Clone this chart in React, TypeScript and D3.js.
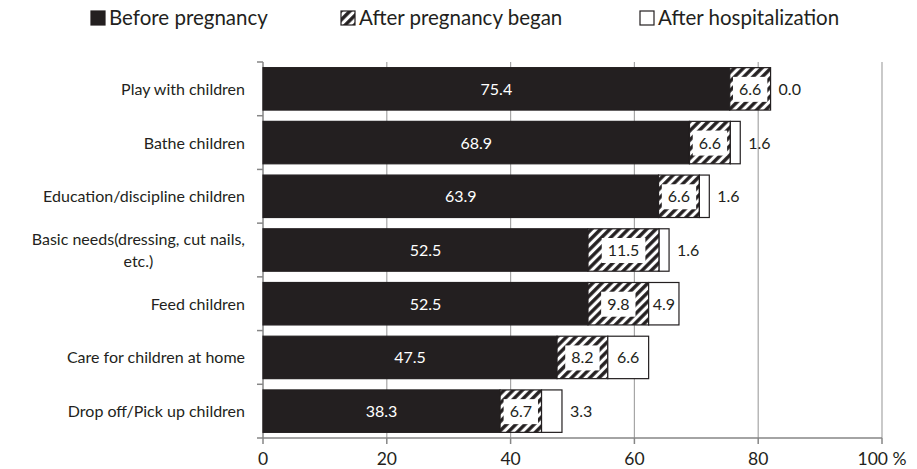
import React, { useEffect, useRef } from "react";
import * as d3 from "d3";

const categories = [
  "Play with children",
  "Bathe children",
  "Education/discipline children",
  "Basic needs(dressing, cut nails,|etc.)",
  "Feed children",
  "Care for children at home",
  "Drop off/Pick up children",
];
const beforePregnancy = [75.4, 68.9, 63.9, 52.5, 52.5, 47.5, 38.3];
const afterPregnancyBegan = [6.6, 6.6, 6.6, 11.5, 9.8, 8.2, 6.7];
const afterHospitalization = [0.0, 1.6, 1.6, 1.6, 4.9, 6.6, 3.3];
const seriesNames = ["Before pregnancy", "After pregnancy began", "After hospitalization"];
const xTicks = [0, 20, 40, 60, 80, 100];

const W = 917;
const H = 469;
const FONT = "Lato, 'Open Sans', sans-serif";

export default function App() {
  const ref = useRef<SVGSVGElement | null>(null);

  useEffect(() => {
    document.body.style.margin = "0";
    const svg = d3.select(ref.current);
    svg.selectAll("*").remove();

    const left = 263;
    const right = 882;
    const top = 62;
    const bottom = 438;

    const x = d3.scaleLinear().domain([0, 100]).range([left, right]);
    const y = d3
      .scaleBand<number>()
      .domain(categories.map((_, i) => i))
      .range([top, bottom])
      .paddingInner(0.21)
      .paddingOuter(0.105);

    const defs = svg.append("defs");
    const pat = defs
      .append("pattern")
      .attr("id", "hatch")
      .attr("patternUnits", "userSpaceOnUse")
      .attr("width", 6.5)
      .attr("height", 6.5)
      .attr("patternTransform", "rotate(45)");
    pat.append("rect").attr("width", 6.5).attr("height", 6.5).attr("fill", "#fff");
    pat
      .append("line")
      .attr("x1", 1.8)
      .attr("x2", 1.8)
      .attr("y1", 0)
      .attr("y2", 6.5)
      .attr("stroke", "#231f20")
      .attr("stroke-width", 3.4);

    const fills = ["#231f20", "url(#hatch)", "#ffffff"];

    // gridlines
    svg
      .append("g")
      .selectAll("line")
      .data(xTicks.slice(1))
      .join("line")
      .attr("x1", (d) => x(d))
      .attr("x2", (d) => x(d))
      .attr("y1", top)
      .attr("y2", bottom)
      .attr("stroke", "#a6a6a6")
      .attr("stroke-width", 1.2);

    // axes
    const axisColor = "#868686";
    svg
      .append("line")
      .attr("x1", left)
      .attr("x2", right)
      .attr("y1", bottom)
      .attr("y2", bottom)
      .attr("stroke", axisColor)
      .attr("stroke-width", 1.5);
    svg
      .append("line")
      .attr("x1", left)
      .attr("x2", left)
      .attr("y1", top)
      .attr("y2", bottom)
      .attr("stroke", axisColor)
      .attr("stroke-width", 1.5);
    svg
      .append("g")
      .selectAll("line")
      .data(xTicks)
      .join("line")
      .attr("x1", (d) => x(d))
      .attr("x2", (d) => x(d))
      .attr("y1", bottom)
      .attr("y2", bottom + 6)
      .attr("stroke", axisColor)
      .attr("stroke-width", 1.5);
    svg
      .append("g")
      .selectAll("line")
      .data(d3.range(categories.length + 1))
      .join("line")
      .attr("x1", left - 6)
      .attr("x2", left)
      .attr("y1", (i) => top + i * ((bottom - top) / categories.length))
      .attr("y2", (i) => top + i * ((bottom - top) / categories.length))
      .attr("stroke", axisColor)
      .attr("stroke-width", 1.5);

    svg
      .append("g")
      .selectAll("text")
      .data(xTicks)
      .join("text")
      .attr("x", (d) => x(d))
      .attr("y", bottom + 27)
      .attr("text-anchor", "middle")
      .attr("font-family", FONT)
      .attr("font-size", 17.5)
      .attr("fill", "#231f20")
      .text((d) => (d === 100 ? "100 %" : String(d)));

    // category labels
    categories.forEach((c, i) => {
      const cy = (y(i) as number) + y.bandwidth() / 2;
      const lines = c.split("|");
      const t = svg
        .append("text")
        .attr("font-family", FONT)
        .attr("font-size", 16)
        .attr("fill", "#231f20")
        .attr("text-anchor", "end")
        .attr("x", 245)
        .attr("y", cy + 6 - ((lines.length - 1) * 22) / 2)
        .text(lines[0]);
      if (lines.length > 1) {
        const w = (t.node() as SVGTextElement).getComputedTextLength();
        svg
          .append("text")
          .attr("font-family", FONT)
          .attr("font-size", 16)
          .attr("fill", "#231f20")
          .attr("text-anchor", "middle")
          .attr("x", 245 - w / 2)
          .attr("y", cy + 6 + 11)
          .text(lines[1]);
      }
    });

    // bars
    const series = [beforePregnancy, afterPregnancyBegan, afterHospitalization];
    categories.forEach((_, i) => {
      let acc = 0;
      const y0 = y(i) as number;
      const bh = y.bandwidth();
      series.forEach((s, k) => {
        const v = s[i];
        const x0 = x(acc);
        const x1 = x(acc + v);
        acc += v;
        svg
          .append("rect")
          .attr("x", x0)
          .attr("y", y0)
          .attr("width", x1 - x0)
          .attr("height", bh)
          .attr("fill", fills[k])
          .attr("stroke", "#231f20")
          .attr("stroke-width", 1.2);
      });
    });

    // value labels
    categories.forEach((_, i) => {
      let acc = 0;
      const cy = (y(i) as number) + y.bandwidth() / 2;
      series.forEach((s, k) => {
        const v = s[i];
        const x0 = x(acc);
        const x1 = x(acc + v);
        acc += v;
        const label = v.toFixed(1);
        const g = svg.append("g");
        const t = g
          .append("text")
          .attr("font-family", FONT)
          .attr("font-size", 16)
          .attr("text-anchor", "middle")
          .attr("y", cy + 6)
          .attr("fill", k === 0 ? "#ffffff" : "#231f20")
          .text(label);
        const tw = (t.node() as SVGTextElement).getComputedTextLength();
        let cx = (x0 + x1) / 2;
        if (k === 2 && x1 - x0 < tw + 4) cx = x1 + tw / 2 + 8;
        t.attr("x", cx);
        if (k === 1) {
          const bw = Math.min(tw + 12, x1 - x0 - 6);
          g.insert("rect", "text")
            .attr("x", cx - bw / 2)
            .attr("y", cy - 12)
            .attr("width", bw)
            .attr("height", 25)
            .attr("fill", "#ffffff");
        }
      });
    });

    // legend
    const legendX = [91, 341, 640];
    seriesNames.forEach((n, k) => {
      svg
        .append("rect")
        .attr("x", legendX[k])
        .attr("y", 11)
        .attr("width", 14)
        .attr("height", 14)
        .attr("fill", k === 1 ? "url(#hatch)" : fills[k])
        .attr("stroke", "#231f20")
        .attr("stroke-width", 1.2);
      svg
        .append("text")
        .attr("x", legendX[k] + 18)
        .attr("y", 25)
        .attr("font-family", FONT)
        .attr("font-size", 20.5)
        .attr("fill", "#231f20")
        .text(n);
    });
  }, []);

  return <svg ref={ref} width={W} height={H} style={{ display: "block", background: "#fff" }} />;
}
